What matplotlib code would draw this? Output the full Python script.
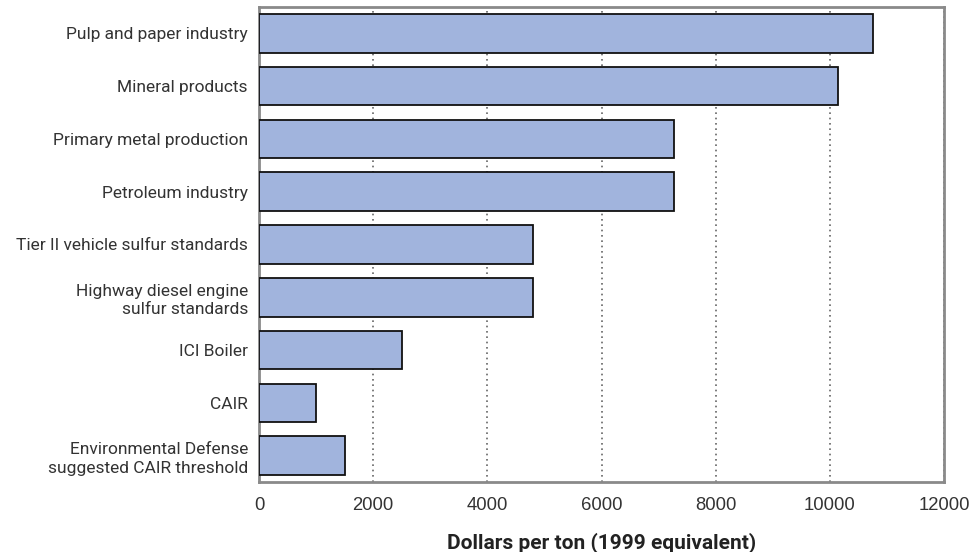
import matplotlib
matplotlib.use("Agg")
import matplotlib.pyplot as plt

categories = [
    "Pulp and paper industry",
    "Mineral products",
    "Primary metal production",
    "Petroleum industry",
    "Tier II vehicle sulfur standards",
    "Highway diesel engine\nsulfur standards",
    "ICI Boiler",
    "CAIR",
    "Environmental Defense\nsuggested CAIR threshold",
]
values = [10750, 10150, 7270, 7270, 4800, 4800, 2500, 1000, 1500]
xticks = [0, 2000, 4000, 6000, 8000, 10000, 12000]
xlabel = "Dollars per ton (1999 equivalent)"

fig = plt.figure(figsize=(9.8, 5.52), dpi=100)
ax = fig.add_axes([259/980, 1 - 482/552, (944-259)/980, (482-7)/552])

pos = list(range(len(categories)))
ax.barh(pos, values, height=0.73, color="#A1B4DD", edgecolor="#111111",
        linewidth=1.3, zorder=3)
ax.set_ylim(len(categories) - 0.5, -0.5)
ax.set_xlim(0, 12000)
ax.set_xticks(xticks)
ax.set_xticklabels([str(t) for t in xticks], fontfamily="Liberation Sans",
                   fontsize=13.3, color="#333333")
ax.set_yticks(pos)
ax.set_yticklabels(categories, fontfamily="Roboto", fontsize=12.5,
                   color="#333333", linespacing=1.3)
ax.tick_params(axis="both", length=0)
ax.tick_params(axis="x", pad=11)
ax.tick_params(axis="y", pad=8)
ax.xaxis.grid(True, linestyle=(0, (1, 2.2)), color="#666666", linewidth=1.2, zorder=0)
ax.yaxis.grid(False)
ax.set_axisbelow(True)
for s in ax.spines.values():
    s.set_color("#8a8a8a")
    s.set_linewidth(2)
ax.set_xlabel(xlabel, fontfamily="Roboto", fontweight="bold", fontsize=15,
              color="#222222", labelpad=13)

fig.savefig("out.png", dpi=100)
